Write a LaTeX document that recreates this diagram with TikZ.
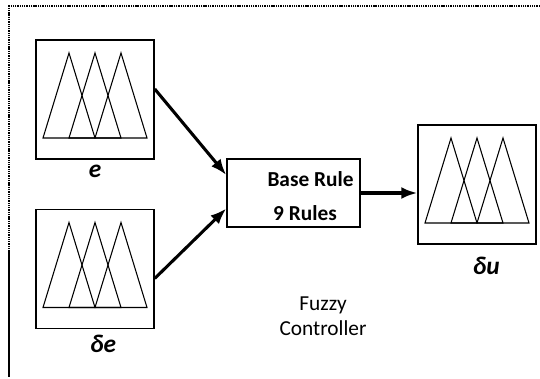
\documentclass[tikz,border=0pt]{standalone}
\usepackage{fontspec}
\setmainfont{Carlito}
\usetikzlibrary{arrows.meta, positioning}

% three overlapping triangles inside a membership box
\newcommand{\mfuncs}[1]{%
  \foreach \k in {-1,0,1}
    \draw[mf, shift={(#1.center)}]
      (\k*26-26,38.5) -- (\k*26,-46.5) -- (\k*26+26,38.5) -- cycle;%
}

\begin{document}
\begin{tikzpicture}[
        x=0.75pt, y=-0.75pt,
        every node/.style={font=\fontsize{16}{19}\selectfont},
        mfbox/.style={
            rectangle,
            draw,
            line width=1.1pt,
            minimum width=88.5pt,
            minimum height=89.25pt,
            inner sep=0pt
        },
        rulebox/.style={
            rectangle,
            draw,
            line width=1.1pt,
            minimum width=99.75pt,
            minimum height=51pt,
            inner sep=0pt
        },
        mf/.style={
            line width=0.8pt,
            line join=miter
        },
        var/.style={
            font=\fontsize{19}{22}\selectfont\bfseries\itshape,
            inner sep=1pt
        },
        rulelbl/.style={
            font=\fontsize{16}{19}\selectfont\bfseries,
            inner sep=0pt
        },
        arrow/.style={
            -{Latex[length=12pt, width=9pt]},
            line width=2.3pt
        },
        frame/.style={
            line width=1.4pt,
            dash pattern=on 1pt off 0.7pt
        }
    ]

    \useasboundingbox (0,0) rectangle (540,379);

    % Outer frame (top and left only)
    \draw[frame] (540,6) -- (9,6) -- (9,250);
    \draw[line width=0.8pt] (9,250) -- (9,377);

    % Inputs
    \node[mfbox] (e) at (95,99.5) {};
    \mfuncs{e}
    \node[var, below=3pt of e] (elbl) {e};

    \node[mfbox] (de) at (95,269) {};
    \mfuncs{de}
    \node[var, below=3pt of de, xshift=6pt] (delbl) {δe};

    % Rule base
    \node[rulebox] (rule) at (293.5,193) {};
    \node[rulelbl] (base) at (310.5,179) {Base Rule};
    \node[rulelbl] (nine) at (305,213) {9 Rules};

    % Output
    \node[mfbox] (du) at (477,184.5) {};
    \mfuncs{du}
    \node[var, below=8pt of du, xshift=7pt] (dulbl) {δu};

    % Caption
    \node[align=center] (ctrl) at (323,316) {Fuzzy\\Controller};

    % Arrows
    \draw[arrow] (e.10) -- (rule.165);
    \draw[arrow] (de.-9) -- (rule.-167);
    \draw[arrow] (rule.east) -- (rule.east -| du.west);

\end{tikzpicture}
\end{document}
